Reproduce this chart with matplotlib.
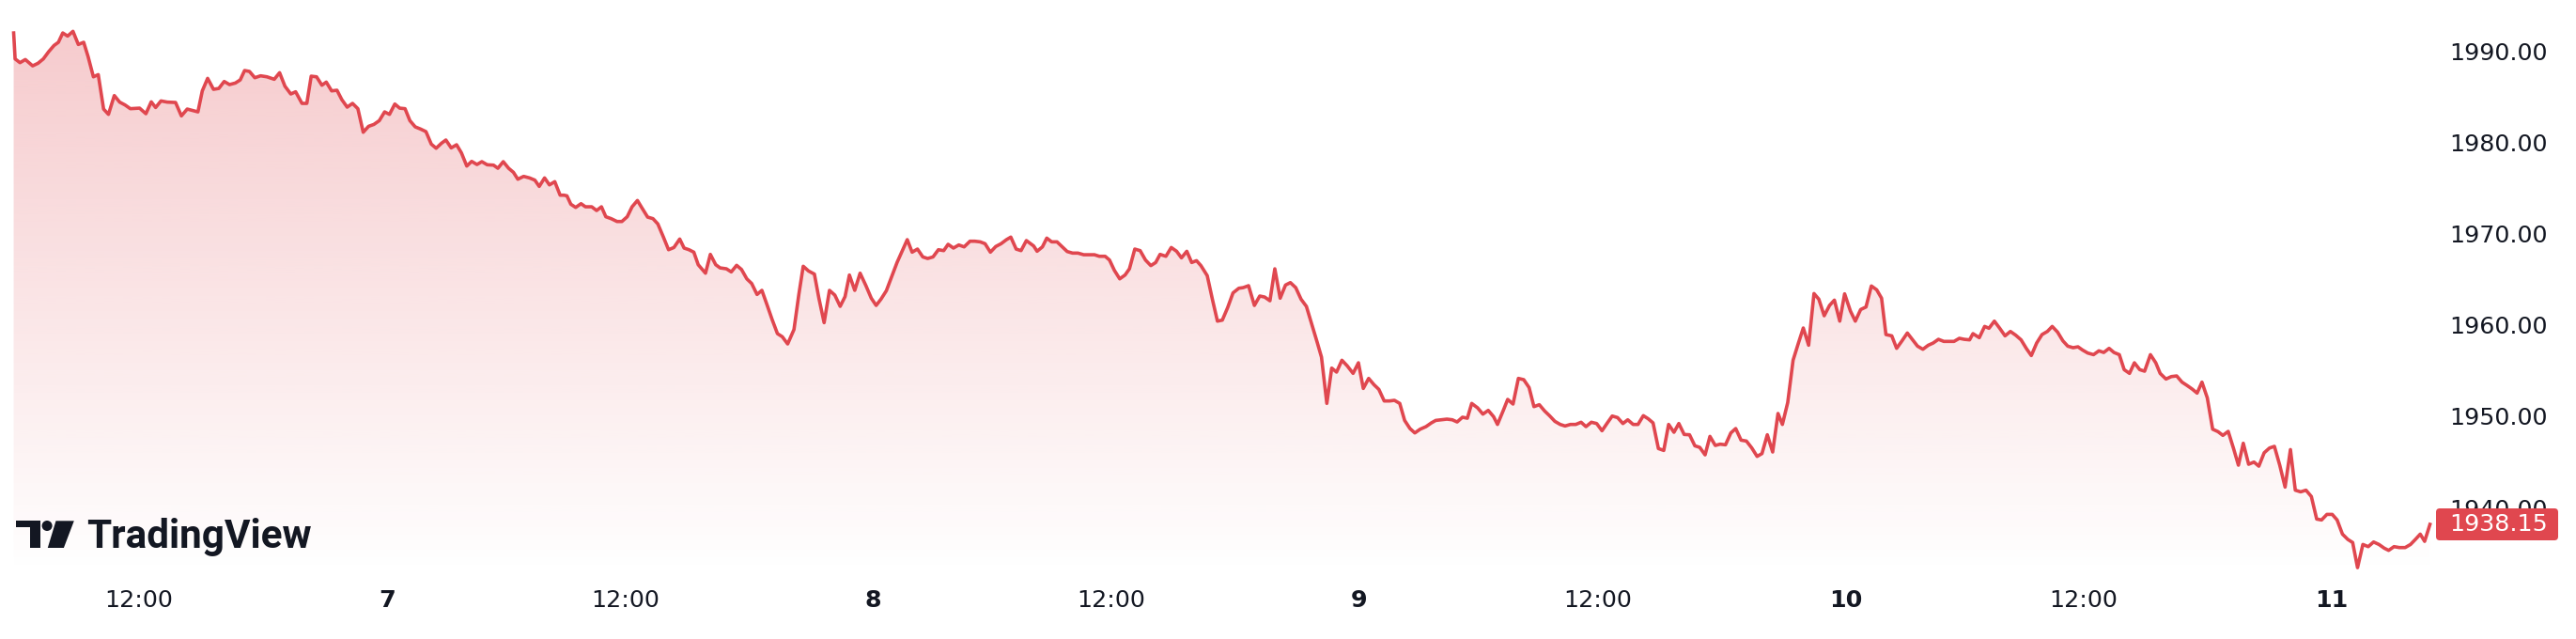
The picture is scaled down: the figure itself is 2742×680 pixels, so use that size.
import numpy as np
import matplotlib
matplotlib.use("Agg")
import matplotlib.pyplot as plt
from matplotlib.colors import to_rgb
from matplotlib.patches import PathPatch, FancyBboxPatch, Rectangle, Circle, Polygon
from matplotlib.transforms import IdentityTransform

plt.rcParams['font.family'] = ['DejaVu Sans']

# time as fractional day of month, price in USD
days = [
    # day 6
    6.232, 6.235, 6.245, 6.256, 6.271, 6.282, 6.293, 6.304, 6.315, 6.324,
    6.333, 6.343, 6.354, 6.365, 6.376, 6.385, 6.396, 6.406, 6.417, 6.427,
    6.439, 6.450, 6.461, 6.472, 6.491, 6.504, 6.515, 6.524, 6.535, 6.548,
    6.565, 6.577, 6.589, 6.611, 6.620, 6.631, 6.643, 6.654, 6.665, 6.676,
    6.688, 6.698, 6.707, 6.717, 6.728, 6.740, 6.753, 6.768, 6.779, 6.790,
    6.802, 6.812, 6.825, 6.835, 6.844, 6.855, 6.866, 6.875, 6.886, 6.897,
    6.907, 6.918, 6.929, 6.940, 6.951, 6.962, 6.973, 6.984, 6.995,
    # day 7
    7.005, 7.016, 7.026, 7.037, 7.047, 7.058, 7.069, 7.080, 7.091, 7.101,
    7.112, 7.121, 7.132, 7.143, 7.153, 7.164, 7.174, 7.185, 7.195, 7.206,
    7.219, 7.228, 7.239, 7.250, 7.260, 7.269, 7.281, 7.293, 7.304, 7.313,
    7.324, 7.334, 7.345, 7.356, 7.364,
    7.370, 7.378, 7.388, 7.399, 7.408, 7.421, 7.431, 7.441, 7.450, 7.461,
    7.473, 7.483, 7.494, 7.504, 7.515, 7.524, 7.536, 7.547, 7.557, 7.568,
    7.579, 7.590, 7.602, 7.611, 7.621, 7.631, 7.640, 7.655, 7.665, 7.676,
    7.685, 7.698, 7.708, 7.719, 7.729, 7.740, 7.750, 7.761, 7.771, 7.782,
    7.792, 7.803, 7.813, 7.824, 7.837, 7.847, 7.856, 7.867, 7.879, 7.888,
    7.899, 7.910, 7.921, 7.932, 7.942, 7.951, 7.962, 7.973, 7.985, 7.996,
    # day 8
    8.006, 8.016, 8.027, 8.038, 8.049, 8.060, 8.070, 8.080, 8.091, 8.102,
    8.112, 8.123, 8.134, 8.145, 8.154, 8.165, 8.176, 8.187, 8.199, 8.209,
    8.220, 8.230, 8.241, 8.252, 8.263, 8.274, 8.283, 8.294, 8.304, 8.315,
    8.330, 8.337, 8.348, 8.357, 8.367, 8.378, 8.389, 8.399, 8.410, 8.421,
    8.433, 8.444, 8.455, 8.465, 8.477, 8.486, 8.496, 8.507, 8.518, 8.527,
    8.538, 8.549, 8.560, 8.571, 8.581, 8.590, 8.602, 8.613, 8.624, 8.634,
    8.645, 8.655, 8.665, 8.674, 8.687, 8.698, 8.708, 8.718, 8.729, 8.740,
    8.752, 8.761, 8.772, 8.784, 8.795, 8.805, 8.816, 8.826, 8.837, 8.848,
    8.858, 8.869, 8.880, 8.891, 8.902, 8.913, 8.922, 8.933, 8.943, 8.953,
    8.964, 8.975, 8.987, 8.998,
    # day 9
    9.008, 9.019, 9.030, 9.040, 9.051, 9.062,
    9.072, 9.083, 9.093, 9.104, 9.114, 9.125, 9.137, 9.148, 9.157, 9.169,
    9.180, 9.191, 9.201, 9.212, 9.222, 9.231, 9.243, 9.254, 9.265, 9.276,
    9.284,
    9.296, 9.305, 9.316, 9.327, 9.338, 9.349, 9.359, 9.370, 9.381, 9.391,
    9.402, 9.413, 9.423, 9.434, 9.445, 9.456, 9.466, 9.477, 9.488, 9.499,
    9.510, 9.520, 9.531, 9.542, 9.552, 9.563, 9.573, 9.584, 9.594, 9.604,
    9.615, 9.626, 9.636, 9.647, 9.657, 9.668, 9.679, 9.690, 9.700, 9.711,
    9.721, 9.732, 9.742, 9.753, 9.764, 9.774, 9.785, 9.796, 9.807, 9.818,
    9.828, 9.839, 9.850, 9.861, 9.870, 9.881, 9.892, 9.903, 9.913, 9.924,
    9.935, 9.945, 9.956, 9.967, 9.977, 9.988, 9.998,
    # day 10
    10.010, 10.020, 10.031,
    10.042, 10.053, 10.064, 10.074, 10.083, 10.095, 10.105, 10.116, 10.127, 10.138,
    10.148, 10.159, 10.170, 10.180, 10.191, 10.202, 10.212, 10.223, 10.234, 10.244,
    10.255,
    10.262, 10.275, 10.286, 10.295, 10.306, 10.317, 10.328, 10.339, 10.350, 10.361,
    10.372, 10.382, 10.393, 10.404, 10.415, 10.425, 10.436, 10.447, 10.457, 10.468,
    10.478, 10.487, 10.498, 10.510, 10.521, 10.531, 10.542, 10.552, 10.563, 10.573,
    10.584, 10.594, 10.605, 10.615, 10.627, 10.638, 10.647, 10.659, 10.670, 10.681,
    10.692, 10.702, 10.713, 10.723, 10.733, 10.744, 10.755, 10.766, 10.776, 10.787,
    10.798, 10.808, 10.818, 10.829, 10.840, 10.850, 10.861, 10.872, 10.882, 10.893,
    10.904, 10.915, 10.925, 10.936, 10.947, 10.958, 10.969, 10.979, 10.990,
    # day 11
    11.001, 11.011, 11.022, 11.033, 11.043, 11.053, 11.064, 11.075, 11.086, 11.097,
    11.108, 11.117, 11.128, 11.139, 11.151, 11.162, 11.172, 11.182, 11.191, 11.202,
]

prices = [
    1991.95, 1989.11, 1988.70, 1989.04, 1988.35, 1988.63, 1989.11, 1989.90, 1990.58, 1990.93,
    1991.95, 1991.61, 1992.13, 1990.69, 1990.93, 1989.38, 1987.15, 1987.39, 1983.62, 1983.04,
    1985.10, 1984.38, 1984.07, 1983.66, 1983.72, 1983.11, 1984.41, 1983.79, 1984.51, 1984.38,
    1984.34, 1982.87, 1983.62, 1983.31, 1985.61, 1986.98, 1985.78, 1985.88, 1986.64, 1986.30,
    1986.47, 1986.81, 1987.84, 1987.74, 1987.05, 1987.26, 1987.15, 1986.88, 1987.60, 1986.12,
    1985.27, 1985.51, 1984.24, 1984.24, 1987.22, 1987.15, 1986.23, 1986.57, 1985.61, 1985.68,
    1984.65, 1983.83, 1984.24, 1983.66, 1981.08, 1981.73, 1981.94, 1982.35, 1983.31,
    1983.04, 1984.17, 1983.72, 1983.66, 1982.35, 1981.67, 1981.43, 1981.15, 1979.78, 1979.33,
    1979.88, 1980.23, 1979.37, 1979.71, 1978.82, 1977.38, 1977.89, 1977.55, 1977.86, 1977.52,
    1977.48, 1977.14, 1977.86, 1977.14, 1976.69, 1975.94, 1976.25, 1976.08, 1975.84, 1975.15,
    1976.08, 1975.32, 1975.67, 1974.19, 1974.19,
    1974.12, 1973.20, 1972.85, 1973.26, 1972.92, 1972.92, 1972.51, 1972.92, 1971.83, 1971.62,
    1971.31, 1971.31, 1971.83, 1972.92, 1973.61, 1972.82, 1971.79, 1971.62, 1971.04, 1969.66,
    1968.22, 1968.46, 1969.39, 1968.40, 1968.22, 1967.95, 1966.58, 1965.65, 1967.71, 1966.58,
    1966.23, 1966.13, 1965.79, 1966.51, 1966.06, 1965.03, 1964.52, 1963.32, 1963.77, 1962.12,
    1960.58, 1959.03, 1958.69, 1957.90, 1959.48, 1963.32, 1966.41, 1965.89, 1965.55, 1962.97,
    1960.23, 1963.77, 1963.25, 1962.02, 1963.08, 1965.45, 1963.77, 1965.65, 1964.28, 1962.91,
    1962.12, 1962.81, 1963.73, 1965.27, 1966.82, 1968.12, 1969.32, 1967.95, 1968.29, 1967.43,
    1967.26, 1967.43, 1968.22, 1968.12, 1968.81, 1968.40, 1968.74, 1968.53, 1969.15, 1969.15,
    1969.08, 1968.88, 1967.95, 1968.57, 1968.88, 1969.32, 1969.60, 1968.29, 1968.12, 1969.22,
    1968.63, 1968.05, 1968.53, 1969.49, 1969.08, 1969.08, 1968.53, 1968.02, 1967.85, 1967.85,
    1967.67, 1967.67, 1967.67, 1967.50, 1967.50, 1967.09, 1965.96, 1965.03, 1965.45, 1966.13,
    1968.29, 1968.12, 1967.09, 1966.48, 1966.82, 1967.71, 1967.50, 1968.46, 1968.05, 1967.33,
    1968.05, 1966.82, 1967.02, 1966.48, 1965.38, 1962.70, 1960.40, 1960.51, 1961.88, 1963.49,
    1964.00, 1964.07, 1964.28, 1962.12, 1963.15, 1963.04, 1962.63, 1966.13, 1962.91, 1964.35,
    1964.62, 1964.07, 1962.80, 1962.01, 1960.06, 1958.11, 1956.46, 1951.39, 1955.26, 1954.82,
    1956.12, 1955.50, 1954.68, 1955.84,
    1953.03, 1954.13, 1953.44, 1952.93, 1951.66, 1951.66,
    1951.73, 1951.39, 1949.53, 1948.64, 1948.16, 1948.57, 1948.85, 1949.26, 1949.53, 1949.60,
    1949.67, 1949.60, 1949.36, 1949.88, 1949.77, 1951.39, 1950.91, 1950.22, 1950.63, 1949.94,
    1949.09,
    1950.63, 1951.83, 1951.32, 1954.13, 1953.99, 1953.13, 1951.04, 1951.25, 1950.56, 1950.05,
    1949.43, 1949.09, 1948.92, 1949.09, 1949.09, 1949.33, 1948.85, 1949.33, 1949.19, 1948.40,
    1949.26, 1950.01, 1949.84, 1949.19, 1949.60, 1949.09, 1949.09, 1950.05, 1949.71, 1949.26,
    1946.45, 1946.24, 1949.09, 1948.23, 1949.19, 1947.99, 1947.96, 1946.75, 1946.58, 1945.76,
    1947.78, 1946.79, 1946.93, 1946.86, 1948.16, 1948.64, 1947.37, 1947.27, 1946.52, 1945.59,
    1945.90, 1947.96, 1946.07, 1950.29, 1949.09, 1951.49, 1956.12, 1958.00, 1959.65, 1957.76,
    1963.42, 1962.80, 1960.99, 1962.12, 1962.70, 1960.40, 1963.39,
    1961.50, 1960.40, 1961.67,
    1961.95, 1964.25, 1963.83, 1962.91, 1958.93, 1958.79, 1957.42, 1958.24, 1959.10, 1958.35,
    1957.66, 1957.32, 1957.76, 1958.00, 1958.41, 1958.18, 1958.18, 1958.18, 1958.52, 1958.41,
    1958.35,
    1959.03, 1958.59, 1959.82, 1959.62, 1960.40, 1959.62, 1958.79, 1959.27, 1958.86, 1958.35,
    1957.39, 1956.63, 1958.00, 1958.93, 1959.27, 1959.82, 1959.20, 1958.24, 1957.66, 1957.49,
    1957.59, 1957.25, 1956.91, 1956.73, 1957.15, 1956.97, 1957.42, 1956.97, 1956.73, 1955.09,
    1954.68, 1955.84, 1955.09, 1954.92, 1956.73, 1955.84, 1954.68, 1954.06, 1954.33, 1954.40,
    1953.72, 1953.37, 1952.96, 1952.52, 1953.72, 1952.00, 1948.57, 1948.30, 1947.89, 1948.33,
    1946.45, 1944.63, 1947.03, 1944.73, 1944.97, 1944.52, 1945.99, 1946.51, 1946.69, 1944.63,
    1942.23, 1946.34, 1941.89, 1941.71, 1941.89, 1941.20, 1938.73, 1938.63, 1939.24,
    1939.24, 1938.63, 1937.08, 1936.50, 1936.16, 1933.41, 1935.95, 1935.71, 1936.22, 1935.95,
    1935.54, 1935.30, 1935.71, 1935.61, 1935.61, 1935.95, 1936.50, 1937.08, 1936.29, 1938.15,
]

price_ticks = [1940, 1950, 1960, 1970, 1980, 1990]
# bar-space positions of the time scale labels (12:00 sits a bit before mid-day)
time_ticks = [6.49, 7, 7.49, 8, 8.49, 9, 9.49, 10, 10.49, 11]
time_labels = ['12:00', '7', '12:00', '8', '12:00', '9', '12:00', '10', '12:00', '11']

line_color = '#e0474f'
text_color = '#131722'
label_size = 18.3

W, H = 2742, 680
fig = plt.figure(figsize=(W / 100, H / 100), dpi=100)
fig.patch.set_facecolor('white')
ax = fig.add_axes([0, 70 / H, 2595 / W, 610 / H])
xlim = (6.2039, 11.2183)
ylim = (1932.80, 1995.56)

# gradient area under the line
grad = np.zeros((256, 1, 4))
grad[..., :3] = to_rgb(line_color)
grad[:, 0, 3] = np.linspace(0.0, 0.30, 256)
im = ax.imshow(grad, extent=[xlim[0], xlim[1], ylim[0], ylim[1]], origin='lower',
               aspect='auto', interpolation='bicubic', zorder=1)
poly = ax.fill_between(days, prices, ylim[0], facecolor='none', edgecolor='none')
clip = PathPatch(poly.get_paths()[0], transform=ax.transData, facecolor='none', edgecolor='none')
ax.add_patch(clip)
im.set_clip_path(clip)

ax.plot(days, prices, color=line_color, lw=2.6, solid_joinstyle='round', zorder=3, clip_on=False)

ax.set_xlim(*xlim)
ax.set_ylim(*ylim)
for s in ax.spines.values():
    s.set_visible(False)

# price scale, right aligned near the right edge
ax.yaxis.tick_right()
ax.set_yticks(price_ticks)
ax.set_yticklabels(['{:.2f}'.format(v) for v in price_ticks])
ax.tick_params(axis='y', length=0, pad=(2712 - 2595) * 0.72, labelsize=label_size,
               labelcolor=text_color)
for lbl in ax.get_yticklabels():
    lbl.set_horizontalalignment('right')

ax.set_xticks(time_ticks)
ax.set_xticklabels(time_labels)
ax.tick_params(axis='x', length=0, pad=12, labelsize=label_size, labelcolor=text_color)
for lbl in ax.get_xticklabels():
    if ':' not in lbl.get_text():
        lbl.set_fontweight('bold')

# last price tag
y_last = ax.transData.transform((days[-1], prices[-1]))[1]
tag = FancyBboxPatch((2593, y_last - 17), 130, 34, boxstyle='round,pad=0,rounding_size=4',
                     transform=IdentityTransform(), facecolor=line_color, edgecolor='none', zorder=5)
fig.add_artist(tag)
fig.text(2712 / W, y_last / H, '{:.2f}'.format(prices[-1]), ha='right', va='center',
         color='white', fontsize=label_size, zorder=6)

# TradingView watermark
logo = [
    Rectangle((17.3, H - 560.5), 25.8, 6.2),
    Rectangle((31.5, H - 583), 11.6, 28.7),
    Circle((50.1, H - 559.5), 5.5),
    Polygon([(59.5, H - 554.3), (78.8, H - 554.3), (67.9, H - 583), (50.8, H - 583)]),
]
for p in logo:
    p.set_transform(IdentityTransform())
    p.set_facecolor(text_color)
    p.set_edgecolor('none')
    p.set_zorder(5)
    fig.add_artist(p)
fig.text(92 / W, (H - 583) / H, 'TradingView', fontsize=30.4, fontweight='bold',
         family=['Roboto', 'DejaVu Sans'], va='baseline', color=text_color, zorder=5)

fig.savefig('out.png', dpi=100, facecolor='white')
